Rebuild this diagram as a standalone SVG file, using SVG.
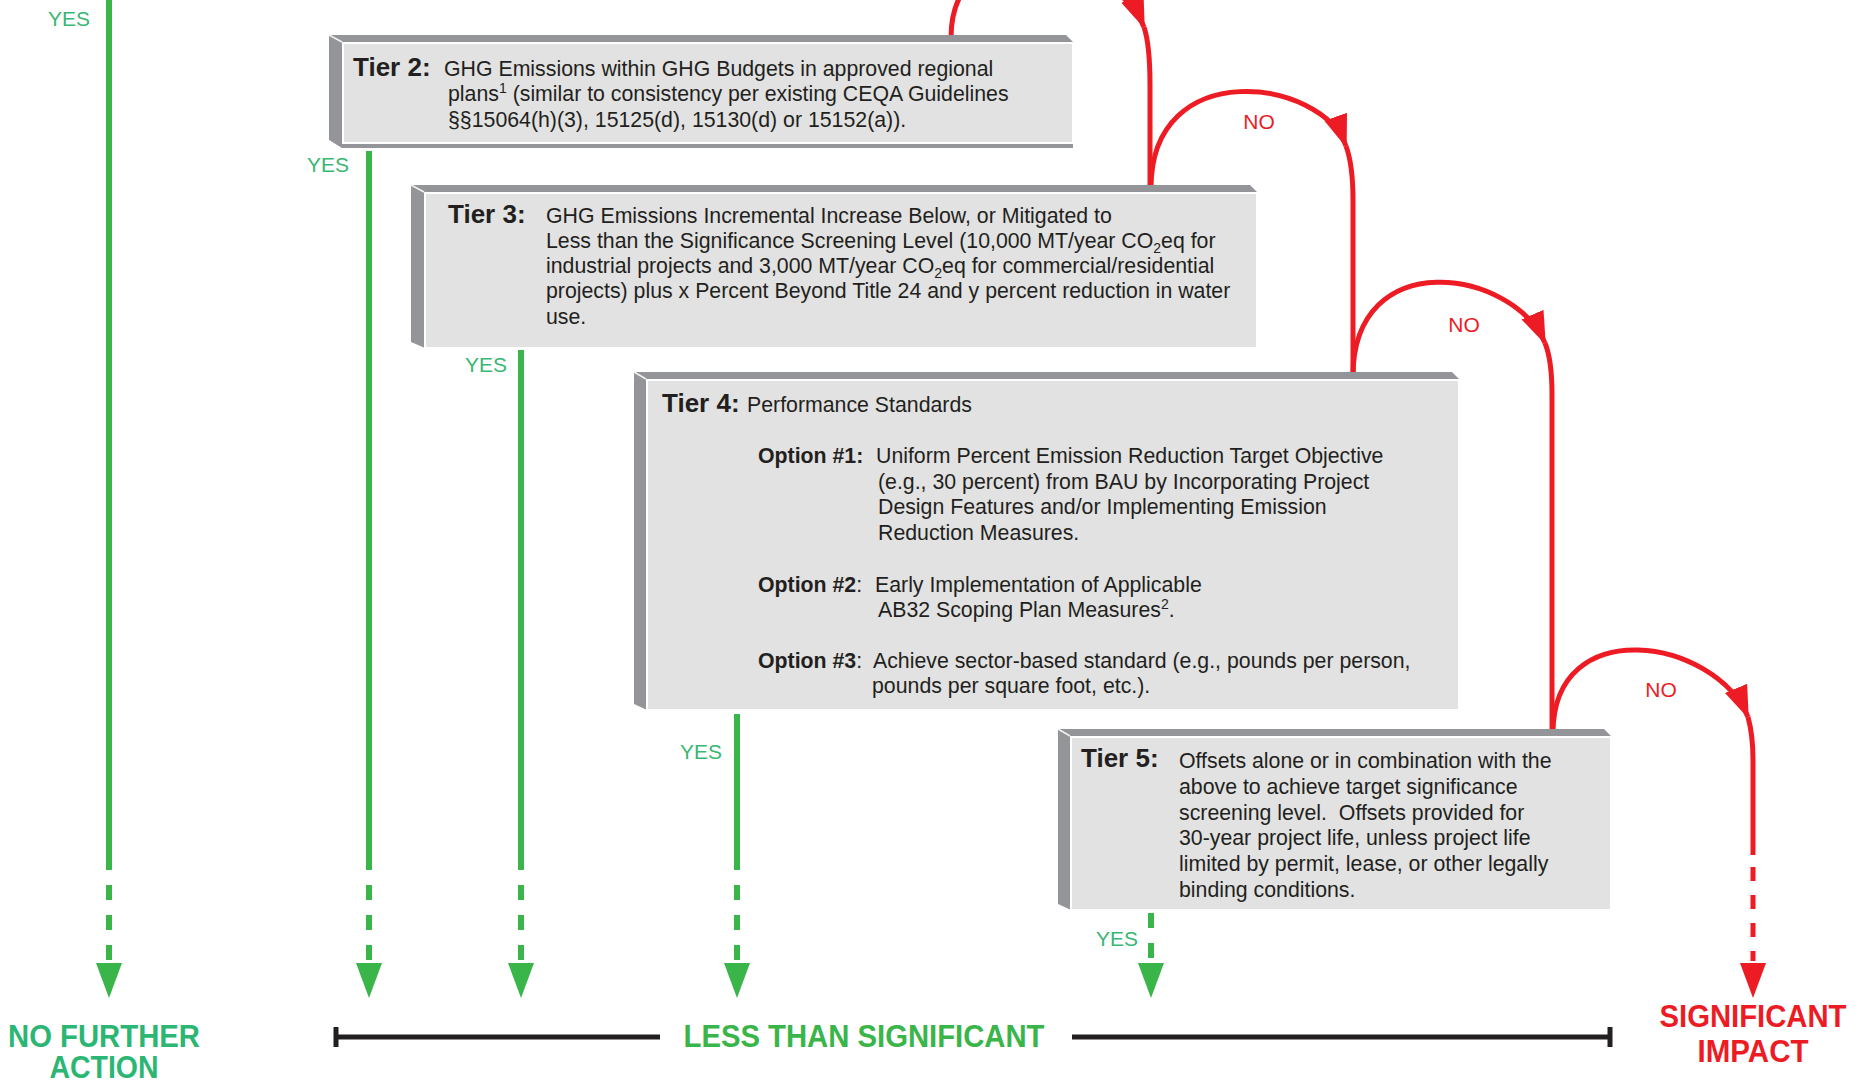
<svg xmlns="http://www.w3.org/2000/svg" width="1866" height="1083" viewBox="0 0 1866 1083">
  <style>
    text { font-family: "Liberation Sans", Arial, Helvetica, sans-serif; }
    .t { font-size: 21.3px; fill: #231f20; }
    .lbl { font-size: 26px; font-weight: bold; fill: #231f20; }
    .opt { font-size: 21.3px; font-weight: bold; fill: #231f20; }
    .sub { font-size: 14px; }
    .sup { font-size: 14px; }
    .yes { font-size: 21px; fill: #3ab773; text-anchor: middle; }
    .no { font-size: 21px; fill: #ed1c24; text-anchor: middle; }
    .out { font-size: 30.5px; font-weight: bold; text-anchor: middle; }
    .outr { font-size: 31px; font-weight: bold; text-anchor: middle; fill: #ed1c24; }
    .bevel { fill: #939598; }
    .body { fill: #e1e2e1; stroke: #ffffff; stroke-width: 2; }
    .hl { stroke: #f2f2f2; stroke-width: 1.5; }
    .g { stroke: #39b54a; stroke-width: 6; fill: none; }
    .gd { stroke: #39b54a; stroke-width: 6; fill: none; stroke-dasharray: 15 15; }
    .r { stroke: #ed1c24; stroke-width: 5; fill: none; }
    .rd { stroke: #ed1c24; stroke-width: 5; fill: none; stroke-dasharray: 14 14; }
    .ga { fill: #39b54a; }
    .ra { fill: #ed1c24; }
    .bar { stroke: #231f20; stroke-width: 5; fill: none; }
  </style>
  <defs>
    <marker id="rarrow" markerUnits="userSpaceOnUse" markerWidth="36" markerHeight="28" refX="31" refY="13" orient="auto">
      <path d="M0,1 L33,13 L0,25 Z" fill="#ed1c24"/>
    </marker>
  </defs>

  <g id="connectors">
    <!-- green YES paths -->
    <path class="g" d="M109,0 V870"/>
    <path class="gd" d="M109,885 V961"/>
    <polygon class="ga" points="96,963 122,963 109,998"/>

    <path class="g" d="M369,151 V870"/>
    <path class="gd" d="M369,885 V961"/>
    <polygon class="ga" points="356,963 382,963 369,998"/>

    <path class="g" d="M521,350 V870"/>
    <path class="gd" d="M521,885 V961"/>
    <polygon class="ga" points="508,963 534,963 521,998"/>

    <path class="g" d="M737,714 V870"/>
    <path class="gd" d="M737,885 V961"/>
    <polygon class="ga" points="724,963 750,963 737,998"/>

    <path class="gd" d="M1151,913 V961"/>
    <polygon class="ga" points="1138,963 1164,963 1151,998"/>

    <!-- red NO paths -->
    <path class="r" d="M951,38 C951,-80 1115,-45 1144,27" marker-end="url(#rarrow)"/>
    <path class="r" d="M1144,27 Q1150,45 1150,85 V190"/>

    <path class="r" d="M1151,188 C1151,55 1322,78 1346,146" marker-end="url(#rarrow)"/>
    <path class="r" d="M1346,146 Q1353,165 1353,200 V376"/>

    <path class="r" d="M1353,376 C1353,245 1512,268 1545,343" marker-end="url(#rarrow)"/>
    <path class="r" d="M1545,343 Q1552,360 1552,395 V733"/>

    <path class="r" d="M1553,733 C1553,612 1715,638 1748,717" marker-end="url(#rarrow)"/>
    <path class="r" d="M1748,717 Q1753,735 1753,760 V855"/>
    <path class="rd" d="M1753,867 V961"/>
    <polygon class="ra" points="1740,963 1766,963 1753,998"/>

    <!-- labels -->
    <text class="yes" x="69" y="26">YES</text>
    <text class="yes" x="328" y="172">YES</text>
    <text class="yes" x="486" y="372">YES</text>
    <text class="yes" x="701" y="759">YES</text>
    <text class="yes" x="1117" y="946">YES</text>
    <text class="no" x="1259" y="129">NO</text>
    <text class="no" x="1464" y="332">NO</text>
    <text class="no" x="1661" y="697">NO</text>
  </g>

  <g id="tier2">
    <polygon class="bevel" points="329,35 1066,35 1073,42 1073,148 342,148 329,140"/>
    <rect class="body" x="343" y="43" width="730" height="100"/>
    <line class="hl" x1="329" y1="35" x2="342" y2="42"/>
    <text class="lbl" x="353" y="76">Tier 2:</text>
    <text class="t" x="444" y="76">GHG Emissions within GHG Budgets in approved regional</text>
    <text class="t" x="448" y="101">plans<tspan class="sup" dy="-8">1</tspan><tspan dy="8"> (similar to consistency per existing CEQA Guidelines</tspan></text>
    <text class="t" x="448" y="127">§§15064(h)(3), 15125(d), 15130(d) or 15152(a)).</text>
  </g>

  <g id="tier3">
    <polygon class="bevel" points="411,185 1250,185 1257,192 1257,348 425,348 411,342"/>
    <rect class="body" x="425" y="193" width="832" height="155"/>
    <line class="hl" x1="411" y1="185" x2="424" y2="192"/>
    <text class="lbl" x="448" y="223">Tier 3:</text>
    <text class="t" x="546" y="223">GHG Emissions Incremental Increase Below, or Mitigated to</text>
    <text class="t" x="546" y="248">Less than the Significance Screening Level (10,000 MT/year CO<tspan class="sub" dy="5">2</tspan><tspan dy="-5">eq for</tspan></text>
    <text class="t" x="546" y="273">industrial projects and 3,000 MT/year CO<tspan class="sub" dy="5">2</tspan><tspan dy="-5">eq for commercial/residential</tspan></text>
    <text class="t" x="546" y="298">projects) plus x Percent Beyond Title 24 and y percent reduction in water</text>
    <text class="t" x="546" y="324">use.</text>
  </g>

  <g id="tier4">
    <polygon class="bevel" points="634,372 1452,372 1459,379 1459,710 647,710 634,704"/>
    <rect class="body" x="647" y="380" width="812" height="330"/>
    <line class="hl" x1="634" y1="372" x2="646" y2="379"/>
    <text class="lbl" x="662" y="412">Tier 4:</text>
    <text class="t" x="747" y="412">Performance Standards</text>
    <text class="opt" x="758" y="463">Option #1:</text>
    <text class="t" x="876" y="463">Uniform Percent Emission Reduction Target Objective</text>
    <text class="t" x="878" y="489">(e.g., 30 percent) from BAU by Incorporating Project</text>
    <text class="t" x="878" y="514">Design Features and/or Implementing Emission</text>
    <text class="t" x="878" y="540">Reduction Measures.</text>
    <text class="t" x="758" y="592"><tspan class="opt">Option #2</tspan>:</text>
    <text class="t" x="875" y="592">Early Implementation of Applicable</text>
    <text class="t" x="878" y="617">AB32 Scoping Plan Measures<tspan class="sup" dy="-8">2</tspan><tspan dy="8">.</tspan></text>
    <text class="t" x="758" y="668"><tspan class="opt">Option #3</tspan>:</text>
    <text class="t" x="873" y="668">Achieve sector-based standard (e.g., pounds per person,</text>
    <text class="t" x="872" y="693">pounds per square foot, etc.).</text>
  </g>

  <g id="tier5">
    <polygon class="bevel" points="1058,729 1604,729 1611,736 1611,910 1071,910 1058,904"/>
    <rect class="body" x="1071" y="737" width="540" height="173"/>
    <line class="hl" x1="1058" y1="729" x2="1070" y2="736"/>
    <text class="lbl" x="1081" y="767">Tier 5:</text>
    <text class="t" x="1179" y="768">Offsets alone or in combination with the</text>
    <text class="t" x="1179" y="794">above to achieve target significance</text>
    <text class="t" x="1179" y="820" style="white-space:pre">screening level.  Offsets provided for</text>
    <text class="t" x="1179" y="845">30-year project life, unless project life</text>
    <text class="t" x="1179" y="871">limited by permit, lease, or other legally</text>
    <text class="t" x="1179" y="897">binding conditions.</text>
  </g>

  <g id="outcome-no-further-action">
    <text class="out" x="104" y="1047" fill="#2bb673" textLength="192" lengthAdjust="spacingAndGlyphs">NO FURTHER</text>
    <text class="out" x="104" y="1078" fill="#2bb673" textLength="109" lengthAdjust="spacingAndGlyphs">ACTION</text>
  </g>

  <g id="outcome-less-than-significant">
    <path class="bar" d="M336,1037 H660 M1072,1037 H1610"/>
    <path class="bar" d="M336,1027 V1047 M1610,1027 V1047"/>
    <text class="out" x="864" y="1047" fill="#39b54a" textLength="361" lengthAdjust="spacingAndGlyphs">LESS THAN SIGNIFICANT</text>
  </g>

  <g id="outcome-significant-impact">
    <text class="outr" x="1753" y="1027" textLength="187" lengthAdjust="spacingAndGlyphs">SIGNIFICANT</text>
    <text class="outr" x="1753" y="1062" textLength="111" lengthAdjust="spacingAndGlyphs">IMPACT</text>
  </g>
</svg>
